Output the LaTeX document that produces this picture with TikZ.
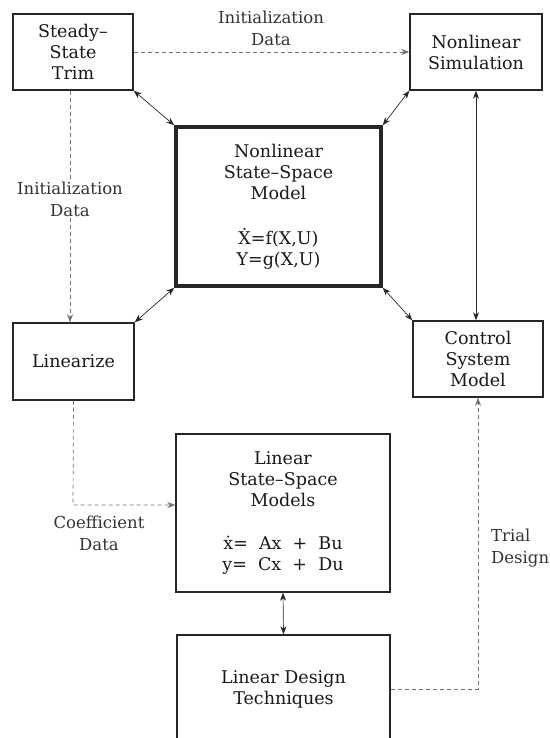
\documentclass[tikz,border=0pt]{standalone}
\usepackage{fontspec}
\setmainfont{DejaVu Serif}
\usetikzlibrary{arrows.meta}

\tikzset{
  block/.style={draw=black!85, line width=1.4pt, align=center, inner sep=0pt,
    text=black!90, font=\fontsize{17.5}{21}\selectfont},
  mainblock/.style={block, line width=3.5pt},
  link/.style={<->, draw=black!85, line width=0.7pt},
  datalink/.style={->, draw=black!55, line width=0.7pt, dash pattern=on 4pt off 3pt},
  note/.style={align=center, inner sep=1pt, text=black!80,
    font=\fontsize{16.5}{22}\selectfont}
}

\begin{document}
\begin{tikzpicture}[x=1pt, y=-1pt, >={Stealth[length=8pt,width=6pt,inset=2.5pt]}]
\useasboundingbox (0,0) rectangle (549,738);

% blocks
\node[block, minimum width=120, minimum height=76] (trim) at (73,52) {Steady--\\State\\Trim};
\node[block, minimum width=132, minimum height=76] (sim) at (476,52) {Nonlinear\\Simulation};
\node[mainblock, minimum width=205, minimum height=159] (nlm) at (278.5,206.5)
  {Nonlinear\\State--Space\\Model\\[24pt]\.{X}=f(X,U)\\Y=g(X,U)};
\node[block, minimum width=121, minimum height=77] (lin) at (73.5,361.5) {Linearize};
\node[block, minimum width=130, minimum height=76] (csm) at (478,359) {Control\\System\\Model};
\node[block, minimum width=214, minimum height=158] (lssm) at (283,513)
  {Linear\\State--Space\\Models\\[22pt]\.{x}=\ \ Ax\ \ +\ \ Bu\\y=\ \ Cx\ \ +\ \ Du};
\node[block, minimum width=213, minimum height=108] (ldt) at (283.5,689) {Linear Design\\Techniques};

% labels
\node[note] (inittop) at (271,28) {Initialization\\Data};
\node[note] (initleft) at (70,199) {Initialization\\Data};
\node[note] (coef) at (99,533) {Coefficient\\Data};
\node[note, align=left, anchor=west] (trial) at (490,548) {Trial\\Design};

% couplings with the model
\draw[link] (trim.south east) -- (nlm.north west);
\draw[link] (sim.south west) -- (nlm.north east);
\draw[link] (nlm.south west) -- (lin.north east);
\draw[link] (nlm.south east) -- (csm.north west);
\draw[link] (sim.south) -- (sim.south |- csm.north);
\draw[link] (lssm.south) -- (ldt.north);

% data flow
\draw[datalink] (trim.east) -- (sim.west);
\draw[datalink] (trim.south -| initleft) -- (initleft) -- (initleft |- lin.north);
\coordinate (coefbend) at (73,505);
\draw[datalink] (lin.south) -- (coefbend) -- (coefbend -| lssm.west);
\draw[datalink] (ldt.east) -| (csm.south);
\end{tikzpicture}
\end{document}
